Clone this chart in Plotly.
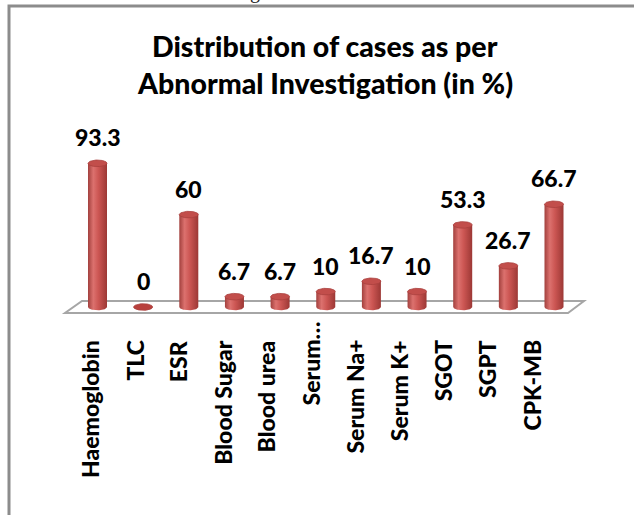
import numpy as np
import plotly.graph_objects as go

categories = ["Haemoglobin", "TLC", "ESR", "Blood Sugar", "Blood urea", "Serum…",
              "Serum Na+", "Serum K+", "SGOT", "SGPT", "CPK-MB"]
values = [93.3, 0, 60, 6.7, 6.7, 10, 16.7, 10, 53.3, 26.7, 66.7]
value_labels = ["93.3", "0", "60", "6.7", "6.7", "10", "16.7", "10", "53.3", "26.7", "66.7"]
title_lines = ["Distribution of cases as per", "Abnormal Investigation (in %)"]

W, H = 634, 515
PX_PER_CAT = 45.65
X0_PX = 97.5
PX_PER_UNIT = 1.54
BASE_PX = 307

FONT = "Lato"
WEIGHT = 900
RED_SCALE = [[0, "#a2403d"], [0.28, "#dc716e"], [0.55, "#cc5653"], [1, "#9c3835"]]


def dx(px):
    return (px - X0_PX) / PX_PER_CAT


def dy(px):
    return (BASE_PX - px) / PX_PER_UNIT


def py(px):
    return 1 - px / H


x_range = [dx(0), dx(W)]
y_range = [dy(H), dy(0)]
half_w = 9.5 / PX_PER_CAT
half_h = 3.3 / PX_PER_UNIT

fig = go.Figure()

t_bot = np.linspace(np.pi, 2 * np.pi, 40)
t_full = np.linspace(0, 2 * np.pi, 80)
for i, v in enumerate(values):
    bx = list(i + half_w * np.cos(t_bot)) + [i + half_w, i - half_w]
    by = list(half_h * np.sin(t_bot)) + [v, v]
    fig.add_trace(go.Scatter(
        x=bx, y=by, mode="lines", fill="toself",
        line=dict(width=0, color="#b04542"),
        fillgradient=dict(type="horizontal", colorscale=RED_SCALE),
        hoverinfo="skip", showlegend=False))
    tx = i + half_w * np.cos(t_full)
    ty = v + half_h * np.sin(t_full)
    fig.add_trace(go.Scatter(
        x=tx, y=ty, mode="lines", fill="toself",
        line=dict(width=0.8, color="#a9403d"),
        fillcolor="#c24e4b" if v > 0 else "#b8403d",
        hoverinfo="skip", showlegend=False))

annotations = []
for i, (v, lab) in enumerate(zip(values, value_labels)):
    annotations.append(dict(
        x=i, y=v, xref="x", yref="y", text=lab, showarrow=False,
        yanchor="middle", yshift=26,
        font=dict(family=FONT, size=23, color="black", weight=WEIGHT)))

for i, cat in enumerate(categories):
    top_px = 320 if cat.endswith("…") else 338
    annotations.append(dict(
        x=dx(90 + 44.1 * i), y=py(top_px), xref="x", yref="paper",
        text=cat, showarrow=False, textangle=-90,
        xanchor="center", yanchor="top",
        font=dict(family=FONT, size=23, color="black", weight=WEIGHT)))

for k, (line, ypx) in enumerate(zip(title_lines, [46, 83])):
    annotations.append(dict(
        x=325 / W, y=py(ypx), xref="paper", yref="paper", text=line,
        showarrow=False, xanchor="center", yanchor="middle",
        font=dict(family=FONT, size=28.5, color="black", weight=WEIGHT)))

annotations.append(dict(
    x=255 / W, y=py(5), xref="paper", yref="paper", text="g",
    showarrow=False, xanchor="center", yanchor="bottom",
    font=dict(family="Liberation Serif", size=20, color="#222222")))

floor_path = "M {},{} L {},{} L {},{} L {},{} Z".format(
    dx(82), dy(301), dx(584), dy(301), dx(568), dy(313), dx(65), dy(313))

shapes = [
    dict(type="rect", xref="paper", yref="paper", x0=9 / W, x1=1.05,
         y0=-0.05, y1=py(6), line=dict(color="#8c8c8c", width=3),
         fillcolor="rgba(0,0,0,0)", layer="below"),
    dict(type="path", xref="x", yref="y", path=floor_path,
         line=dict(color="#a6a6a6", width=2), fillcolor="white", layer="below"),
]

fig.update_layout(
    width=W, height=H,
    margin=dict(l=0, r=0, t=0, b=0),
    paper_bgcolor="white", plot_bgcolor="rgba(0,0,0,0)",
    xaxis=dict(range=x_range, visible=False, fixedrange=True),
    yaxis=dict(range=y_range, visible=False, fixedrange=True),
    annotations=annotations, shapes=shapes,
    showlegend=False,
)

fig.write_html(
    "out.html",
    config={"displayModeBar": False},
    post_script="document.body.style.margin='0';document.body.style.overflow='hidden';",
)
